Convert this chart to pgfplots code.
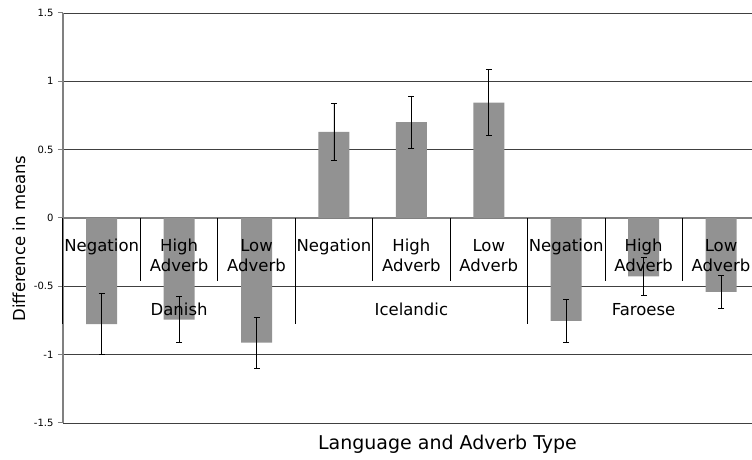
\documentclass[border=0pt]{standalone}
\usepackage{pgfplots}
\pgfplotsset{compat=1.18}
\usepackage{pgfplotstable}
\usepackage{fontspec}
\setmainfont{DejaVu Sans}

\definecolor{barfill}{RGB}{146,146,146}
\definecolor{axisgray}{RGB}{128,128,128}

% difference in means, with the half-length of each error bar
\pgfplotstableread{
x  y      err
0 -0.777 0.222
1 -0.743 0.168
2 -0.911 0.186
3  0.631 0.210
4  0.702 0.191
5  0.845 0.241
6 -0.753 0.157
7 -0.427 0.141
8 -0.541 0.122
}\diffs

\tikzset{
  cat/.style={anchor=north, align=center, inner sep=0pt, yshift=-19pt,
    font=\fontsize{16.5}{20}\selectfont},
  grp/.style={cat, yshift=-64pt},
}

\begin{document}
\begin{tikzpicture}
\begin{axis}[
  at={(0,0)}, anchor=south west,
  scale only axis,
  width=689pt, height=410pt,
  xmin=-0.5, xmax=8.4,
  ymin=-1.5, ymax=1.5,
  axis x line*=middle,
  axis y line*=left,
  axis line style={axisgray, line width=1.2pt},
  xtick=\empty,
  ytick={-1.5,-1,-0.5,0,0.5,1,1.5},
  yticklabels={-1.5,-1,-0.5,0,0.5,1,1.5},
  /pgf/number format/assume math mode=true,
  tick align=outside,
  major tick length=5pt,
  ytick style={axisgray, line width=1pt},
  yticklabel style={font=\fontsize{10}{12}\selectfont, xshift=-1pt},
  ymajorgrids,
  grid style={black!75, line width=0.9pt},
  clip=false,
  xlabel={Language and Adverb Type},
  ylabel={Difference in means},
  xlabel style={at={(axis description cs:0.558,-0.0512)}, anchor=center,
    font=\fontsize{19}{22}\selectfont},
  ylabel style={at={(axis description cs:-0.0639,0.45)}, anchor=center,
    font=\fontsize{16.5}{20}\selectfont},
]
\addplot[ybar, bar width=0.4, fill=barfill, draw=none,
  error bars/.cd, y dir=both, y explicit,
  error bar style={black, line width=0.8pt},
  error mark options={black, rotate=90, mark size=3pt, line width=0.8pt}]
  table[x=x, y=y, y error=err] {\diffs};

% separators of the two label levels
\draw[black, line width=0.8pt]
  (axis cs:0.5,0) -- (axis cs:0.5,-0.464)
  (axis cs:1.5,0) -- (axis cs:1.5,-0.464)
  (axis cs:3.5,0) -- (axis cs:3.5,-0.464)
  (axis cs:4.5,0) -- (axis cs:4.5,-0.464)
  (axis cs:6.5,0) -- (axis cs:6.5,-0.464)
  (axis cs:7.5,0) -- (axis cs:7.5,-0.464);
\draw[black, line width=1pt]
  (axis cs:-0.5,0) -- (axis cs:-0.5,-0.777)
  (axis cs:2.5,0) -- (axis cs:2.5,-0.777)
  (axis cs:5.5,0) -- (axis cs:5.5,-0.777);

\node[cat] at (axis cs:0,0) {\strut Negation};
\node[cat] at (axis cs:1,0) {\strut High\\Adverb};
\node[cat] at (axis cs:2,0) {\strut Low\\Adverb};
\node[cat] at (axis cs:3,0) {\strut Negation};
\node[cat] at (axis cs:4,0) {\strut High\\Adverb};
\node[cat] at (axis cs:5,0) {\strut Low\\Adverb};
\node[cat] at (axis cs:6,0) {\strut Negation};
\node[cat] at (axis cs:7,0) {\strut High\\Adverb};
\node[cat] at (axis cs:8,0) {\strut Low\\Adverb};

\node[grp] at (axis cs:1,0) {\strut Danish};
\node[grp] at (axis cs:4,0) {\strut Icelandic};
\node[grp] at (axis cs:7,0) {\strut Faroese};
\end{axis}
\pgfresetboundingbox
\path (-63pt,-37pt) rectangle (689pt,423pt);
\end{tikzpicture}
\end{document}
